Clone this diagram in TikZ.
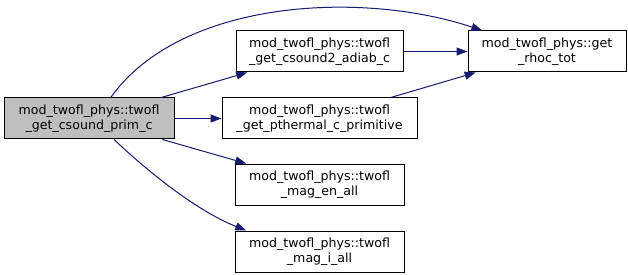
\documentclass[tikz,border=0pt]{standalone}
\usepackage{fontspec}
\setmainfont{DejaVu Sans}
\usepackage{xcolor}
\usepackage{tikz}
\usetikzlibrary{arrows.meta,positioning}
\definecolor{edgeblue}{HTML}{191970}
\definecolor{curgray}{HTML}{BFBFBF}

\begin{document}
\begin{tikzpicture}[
  x=1pt,y=-1pt,
  fnode/.style={draw,line width=1pt,minimum height=41pt,inner sep=2pt,
                align=center,font=\fontsize{12.6}{15}\selectfont,fill=white},
  calls/.style={-{Triangle[length=11pt,width=8pt]},edgeblue,line width=1pt},
]
\useasboundingbox (0,0) rectangle (628,275);
\node[fnode,fill=curgray,minimum width=170pt] at (89,118.5) (prim)
  {mod\_twofl\_phys::twofl\\\_get\_csound\_prim\_c};
\node[fnode,minimum width=195pt,right=47pt of prim] (pth)
  {mod\_twofl\_phys::twofl\\\_get\_pthermal\_c\_primitive};
\node[fnode,minimum width=167pt,above=25pt of pth] (adiab)
  {mod\_twofl\_phys::twofl\\\_get\_csound2\_adiab\_c};
\node[fnode,minimum width=169pt,below=24pt of pth] (magen)
  {mod\_twofl\_phys::twofl\\\_mag\_en\_all};
\node[fnode,minimum width=169pt,below=25pt of magen] (magi)
  {mod\_twofl\_phys::twofl\\\_mag\_i\_all};
\node[fnode,minimum width=158pt,right=64pt of adiab] (rhoc)
  {mod\_twofl\_phys::get\\\_rhoc\_tot};

\draw[calls] (prim.44) .. controls (180,0) and (360,-10) .. (rhoc.162);
\draw[calls] (prim) -- (adiab);
\draw[calls] (prim) -- (pth);
\draw[calls] (prim) -- (magen);
\draw[calls] (prim.-40) .. controls +(37,35) and +(-48,-19) .. (magi.164);
\draw[calls] (adiab) -- (rhoc);
\draw[calls] (pth) -- (rhoc);
\end{tikzpicture}
\end{document}
